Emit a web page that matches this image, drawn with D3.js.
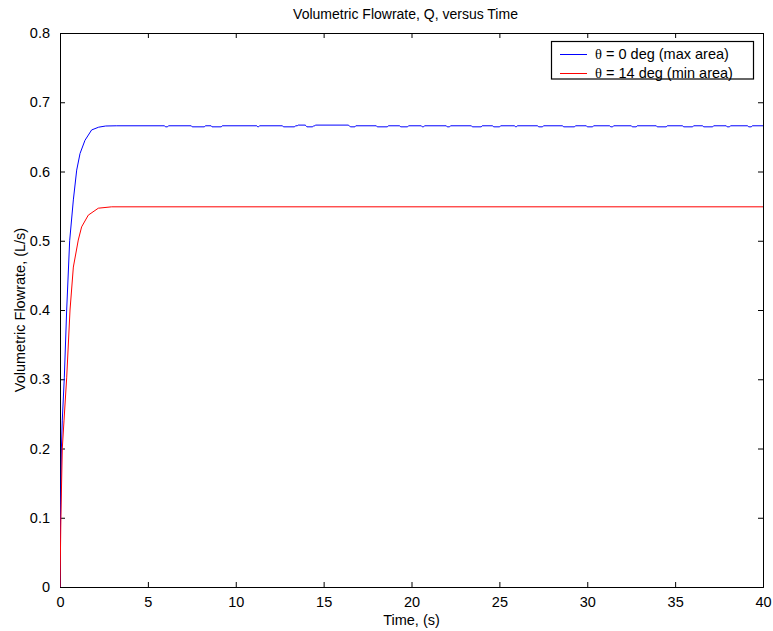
<!DOCTYPE html>
<html>
<head>
<meta charset="utf-8">
<script src="https://cdn.jsdelivr.net/npm/d3@7"></script>
<style>
  body { margin: 0; background: #fff; }
  svg { display: block; font-family: "Liberation Sans", Arial, Helvetica, sans-serif; }
</style>
</head>
<body>
<svg id="chart" width="773" height="631"></svg>
<script>
// ---- data ----
const titleText = "Volumetric Flowrate, Q, versus Time";
const xLabel = "Time, (s)";
const yLabel = "Volumetric Flowrate, (L/s)";
const xTicks = [0, 5, 10, 15, 20, 25, 30, 35, 40];
const yTicks = [0, 0.1, 0.2, 0.3, 0.4, 0.5, 0.6, 0.7, 0.8];
const seriesNames = ["\u03b8 = 0 deg (max area)", "\u03b8 = 14 deg (min area)"];
const seriesColors = ["#0000ff", "#ff0000"];

// theta = 0 deg series (time s, flowrate L/s)
const blueT = [
  0, 0.04, 0.08, 0.13, 0.245, 0.38, 0.55, 0.76, 0.95, 1.14, 1.42, 1.8, 2.2, 2.6, 3.2,
  5.95, 6.0, 6.12, 6.17,
  7.47, 7.52, 8.22, 8.27,
  8.6, 8.65, 9.18, 9.23,
  11.2, 11.25, 11.3, 11.35,
  12.66, 12.71, 13.35, 13.4,
  13.5, 13.55, 13.95, 14.0,
  14.0, 14.05, 14.38, 14.43,
  14.5, 14.55, 16.4, 16.45,
  16.47, 16.52, 16.78, 16.83,
  18.0, 18.05, 18.63, 18.68,
  19.33, 19.38, 19.78, 19.83,
  20.56, 20.61, 20.69, 20.74,
  21.98, 22.03, 22.17, 22.22,
  23.41, 23.46, 23.97, 24.02,
  24.62, 24.67, 25.02, 25.07,
  25.87, 25.92, 25.97, 26.02,
  27.18, 27.23, 27.46, 27.51,
  28.6, 28.65, 29.28, 29.33,
  29.95, 30.0, 30.31, 30.36,
  31.28, 31.33, 31.45, 31.5,
  32.51, 32.56, 32.79, 32.84,
  33.93, 33.98, 34.5, 34.55,
  35.43, 35.48, 36.0, 36.05,
  36.57, 36.62, 37.14, 37.19,
  37.91, 37.96, 38.1, 38.15,
  39.13, 39.18, 39.34, 39.39,
  40];
const blueQ = [
  0, 0.12, 0.2, 0.241, 0.302, 0.40, 0.50, 0.559, 0.602, 0.626, 0.645, 0.660, 0.664, 0.6657, 0.666,
  0.666, 0.6645, 0.6645, 0.666,
  0.666, 0.6645, 0.6645, 0.666,
  0.666, 0.6645, 0.6645, 0.666,
  0.666, 0.6645, 0.6645, 0.666,
  0.666, 0.6645, 0.6645, 0.666,
  0.666, 0.667, 0.667, 0.666,
  0.666, 0.6645, 0.6645, 0.666,
  0.666, 0.667, 0.667, 0.666,
  0.666, 0.6645, 0.6645, 0.666,
  0.666, 0.6645, 0.6645, 0.666,
  0.666, 0.6645, 0.6645, 0.666,
  0.666, 0.6645, 0.6645, 0.666,
  0.666, 0.6645, 0.6645, 0.666,
  0.666, 0.6645, 0.6645, 0.666,
  0.666, 0.6645, 0.6645, 0.666,
  0.666, 0.6645, 0.6645, 0.666,
  0.666, 0.6645, 0.6645, 0.666,
  0.666, 0.6645, 0.6645, 0.666,
  0.666, 0.6645, 0.6645, 0.666,
  0.666, 0.6645, 0.6645, 0.666,
  0.666, 0.6645, 0.6645, 0.666,
  0.666, 0.6645, 0.6645, 0.666,
  0.666, 0.6645, 0.6645, 0.666,
  0.666, 0.6645, 0.6645, 0.666,
  0.666, 0.6645, 0.6645, 0.666,
  0.666, 0.6645, 0.6645, 0.666,
  0.666];

// theta = 14 deg series
const redT = [0, 0.05, 0.13, 0.23, 0.38, 0.57, 0.76, 1.04, 1.23, 1.61, 2.18, 2.94, 40];
const redQ = [0, 0.1, 0.2, 0.241, 0.302, 0.40, 0.462, 0.501, 0.520, 0.537, 0.547, 0.549, 0.549];

// ---- layout ----
const svg = d3.select("#chart");
const x = d3.scaleLinear().domain([0, 40]).range([60, 763]);
const y = d3.scaleLinear().domain([0, 0.8]).range([587, 33]);

const tickLen = 5;
const fontMain = "14.5px";
const fmtY = d => d === 0 ? "0" : d3.format(".1f")(d);

const gx = svg.append("g").attr("transform", `translate(0,${y(0)})`)
  .call(d3.axisBottom(x).tickValues(xTicks).tickSize(-tickLen).tickPadding(10).tickFormat(d3.format("d")));
const gxt = svg.append("g").attr("transform", `translate(0,${y(0.8)})`)
  .call(d3.axisTop(x).tickValues(xTicks).tickSize(-tickLen).tickFormat(""));
const gy = svg.append("g").attr("transform", `translate(${x(0)},0)`)
  .call(d3.axisLeft(y).tickValues(yTicks).tickSize(-tickLen).tickPadding(10).tickFormat(fmtY));
const gyr = svg.append("g").attr("transform", `translate(${x(40)},0)`)
  .call(d3.axisRight(y).tickValues(yTicks).tickSize(-tickLen).tickFormat(""));

[gx, gxt, gy, gyr].forEach(g => {
  g.select(".domain").attr("stroke", "#000").attr("stroke-width", 1);
  g.selectAll(".tick line").attr("stroke", "#000");
  g.selectAll(".tick text").attr("fill", "#000").style("font-size", fontMain)
    .style("font-family", "'Liberation Sans', Arial, sans-serif");
});

svg.append("clipPath").attr("id", "clip").append("rect")
  .attr("x", x(0)).attr("y", y(0.8)).attr("width", x(40) - x(0)).attr("height", y(0) - y(0.8));

const line = d3.line().x(d => x(d[0])).y(d => y(d[1]));
const blueData = blueT.map((t, i) => [t, blueQ[i]]).filter(d => d[1] !== undefined);
const redData = redT.map((t, i) => [t, redQ[i]]);

svg.append("path").datum(blueData).attr("d", line)
  .attr("fill", "none").attr("stroke", seriesColors[0]).attr("stroke-width", 1).attr("clip-path", "url(#clip)");
svg.append("path").datum(redData).attr("d", line)
  .attr("fill", "none").attr("stroke", seriesColors[1]).attr("stroke-width", 1).attr("clip-path", "url(#clip)");

// title and labels
svg.append("text").attr("x", (x(0) + x(40)) / 2 - 6).attr("y", 19).attr("text-anchor", "middle")
  .style("font-size", "14px").attr("fill", "#000").text(titleText);
svg.append("text").attr("x", (x(0) + x(40)) / 2).attr("y", 625).attr("text-anchor", "middle")
  .style("font-size", "14.5px").attr("fill", "#000").text(xLabel);
svg.append("text").attr("transform", `translate(25,${(y(0) + y(0.8)) / 2}) rotate(-90)`)
  .attr("text-anchor", "middle").style("font-size", "14.5px").attr("fill", "#000").text(yLabel);

// legend
const lg = svg.append("g");
lg.append("rect").attr("x", 551.5).attr("y", 41.5).attr("width", 202).attr("height", 37.5)
  .attr("fill", "#fff").attr("stroke", "#000").attr("stroke-width", 1.2);
const rowsY = [54, 73];
seriesNames.forEach((name, i) => {
  lg.append("line").attr("x1", 560).attr("x2", 587).attr("y1", rowsY[i] + 0.5).attr("y2", rowsY[i] + 0.5)
    .attr("stroke", seriesColors[i]).attr("stroke-width", 1);
  const t = lg.append("text").attr("x", 595).attr("y", rowsY[i] + 5).style("font-size", fontMain).attr("fill", "#000");
  t.append("tspan").style("font-family", "'Liberation Serif', 'DejaVu Serif', serif").text(name.slice(0, 1));
  t.append("tspan").text(name.slice(1));
});
</script>
</body>
</html>
